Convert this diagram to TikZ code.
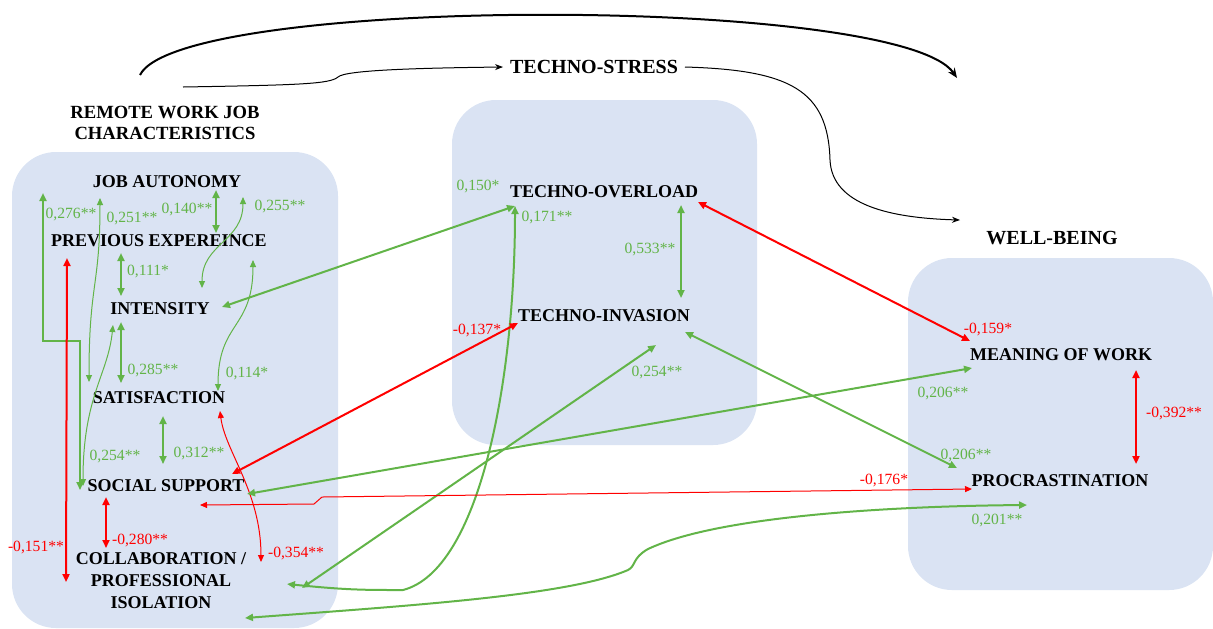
\documentclass[tikz,border=0pt]{standalone}
\usepackage{fontspec}
\setmainfont{Liberation Serif}
\usetikzlibrary{arrows.meta,calc}
\definecolor{boxblue}{RGB}{218,227,243}
\definecolor{posgreen}{RGB}{98,180,72}
\definecolor{negred}{RGB}{255,0,0}
\begin{document}
\begin{tikzpicture}[x=0.5pt,y=-0.5pt,
    group/.style={fill=boxblue,rounded corners=22pt},
    var/.style={font=\bfseries\fontsize{9}{11}\selectfont,inner sep=1pt,align=center},
    head/.style={font=\bfseries\fontsize{10}{10.5}\selectfont,align=center},
    coefg/.style={text=posgreen,font=\fontsize{7.8}{8}\selectfont,inner sep=0pt},
    coefr/.style={text=negred,font=\fontsize{7.8}{8}\selectfont,inner sep=0pt},
    ctip/.tip={Triangle[length=4pt,width=3.5pt]},
    stip/.tip={Triangle[length=3.5pt,width=3pt]},
    posline/.style={draw=posgreen,line width=1pt,ctip-ctip},
    posthin/.style={draw=posgreen,line width=0.5pt,stip-stip},
    negline/.style={draw=negred,line width=1pt,ctip-ctip},
    negthin/.style={draw=negred,line width=0.5pt,stip-stip},
  ]
  \useasboundingbox (0,0) rectangle (1213,628);

  % groups
  \fill[group] (12,152) rectangle (338,628);
  \fill[group] (452,100) rectangle (757,445);
  \fill[group] (908,258) rectangle (1213,590);

  % headings
  \node[head,font=\bfseries\fontsize{9.3}{10.5}\selectfont] (rwjc) at (165,123) {REMOTE WORK JOB\\CHARACTERISTICS};
  \node[head] (tstress) at (594,67) {TECHNO-STRESS};
  \node[head] (wellb) at (1052,238) {WELL-BEING};

  % variables
  \node[var] (jobaut) at (167,182) {JOB AUTONOMY};
  \node[var] (prevexp) at (159,241) {PREVIOUS EXPEREINCE};
  \node[var] (intens) at (160,309) {INTENSITY};
  \node[var] (satisf) at (159,398) {SATISFACTION};
  \node[var] (socsup) at (166,486) {SOCIAL SUPPORT};
  \node[var] (collab) at (161,581) {COLLABORATION /\\PROFESSIONAL\\ISOLATION};
  \node[var] (tover) at (604,192) {TECHNO-OVERLOAD};
  \node[var] (tinv) at (604,316) {TECHNO-INVASION};
  \node[var] (meaning) at (1061,355) {MEANING OF WORK};
  \node[var] (procr) at (1060,481) {PROCRASTINATION};

  % top arrows
  \draw[line width=1pt,-{Stealth[length=5pt,width=4pt]}] ($(rwjc)+(-25,-48)$)
    .. controls (180,-5) and (900,-5) .. ($(wellb)+(-95,-160)$);
  \draw[line width=0.5pt,-{Stealth[length=4pt,width=3pt]}] ($(rwjc)+(18,-36)$)
    .. controls (300,85) and (330,84) .. (338,77)
    .. controls (345,70) and (420,68) .. (tstress.west);
  \draw[line width=0.5pt,-{Stealth[length=4pt,width=3pt]}] (tstress.east)
    .. controls (790,70) and (828,90) .. (830,160)
    .. controls (832,205) and (890,218) .. ($(wellb)+(-92,-18)$);

  % remote work job characteristics
  \draw[posline] ($(jobaut)+(-124,11)$) -- ++(0,148) -- ++(37,0) -- ($(socsup)+(-86,4)$);
  \draw[posthin] ($(jobaut)+(-67,16)$) .. controls +(0,90) and +(0,-100) .. ($(satisf)+(-70,-16)$);
  \draw[posline] ($(jobaut)+(49,8)$) -- ($(prevexp)+(57,-8)$);
  \draw[posthin] ($(jobaut)+(76,15)$) .. controls +(0,45) and +(0,-45) .. ($(intens)+(42,-21)$);
  \draw[posline] ($(prevexp)+(-38,12)$) -- ($(intens)+(-39,-13)$);
  \draw[posthin] ($(prevexp)+(94,19)$) .. controls +(0,70) and +(0,-70) .. ($(satisf)+(59,-7)$);
  \draw[posline] ($(intens)+(-39,13)$) -- ($(satisf)+(-38,-15)$);
  \draw[posthin] ($(intens)+(-47,16)$) .. controls +(-5,50) and +(0,-90) .. ($(socsup)+(-83,0)$);
  \draw[posline] ($(satisf)+(4,18)$) -- ($(socsup)+(-3,-22)$);
  \draw[negline] ($(socsup)+(-60,11)$) -- ($(collab)+(-55,-33)$);
  \draw[negline] ($(prevexp)+(-92,17)$) -- ($(collab)+(-95,1)$);
  \draw[negthin] ($(satisf)+(61,13)$) .. controls +(5,40) and +(0,-70) .. ($(collab)+(100,-19)$);

  % across groups
  \draw[posline] ($(intens)+(62,-2)$) -- ($(tover)+(-89,14)$);
  \draw[posline] ($(collab)+(126,3)$) .. controls +(60,6) and +(-40,0) .. (403,590)
    .. controls (480,570) and (515,380) .. ($(tover)+(-89,14)$);
  \draw[posline] ($(collab)+(141,7)$) -- ($(tinv)+(52,29)$);
  \draw[negline] ($(socsup)+(66,-12)$) -- ($(tinv)+(-86,7)$);
  \draw[posline] ($(tover)+(77,13)$) -- ($(tinv)+(77,-18)$);
  \draw[posline] ($(tinv)+(81,16)$) -- ($(procr)+(-103,-13)$);
  \draw[negline] ($(tover)+(94,10)$) -- ($(meaning)+(-91,-14)$);
  \draw[posline] ($(socsup)+(81,8)$) -- ($(meaning)+(-89,13)$);
  \draw[negthin] ($(socsup)+(34,19)$) -- (314,504) -- (322,497) -- ($(procr)+(-88,8)$);
  \draw[posline] ($(collab)+(84,37)$) .. controls (420,605) and (570,595) .. (628,570)
    .. controls (636,566) and (632,558) .. (648,549)
    .. controls (720,515) and (900,506) .. ($(procr)+(-33,24)$);
  \draw[negline] ($(meaning)+(75,15)$) -- ($(procr)+(76,-17)$);

  % coefficients
  \node[coefg] (c276) at (71,215) {0,276**};
  \node[coefg] (c251) at (132,219) {0,251**};
  \node[coefg] (c140) at (187,210) {0,140**};
  \node[coefg] (c255) at (280,207) {0,255**};
  \node[coefg] (c111) at (148,272) {0,111*};
  \node[coefg] (c114) at (247,373) {0,114*};
  \node[coefg] (c285) at (153,370) {0,285**};
  \node[coefg] (c254a) at (115,456) {0,254**};
  \node[coefg] (c312) at (199,453) {0,312**};
  \node[coefr] (c280) at (140,540) {-0,280**};
  \node[coefr] (c151) at (36,547) {-0,151**};
  \node[coefr] (c354) at (296,553) {-0,354**};
  \node[coefg] (c150) at (478,187) {0,150*};
  \node[coefg] (c171) at (547,218) {0,171**};
  \node[coefg] (c254b) at (657,372) {0,254**};
  \node[coefr] (c137) at (477,330) {-0,137*};
  \node[coefg] (c533) at (650,250) {0,533**};
  \node[coefg] (c206a) at (966,455) {0,206**};
  \node[coefr] (c159) at (988,329) {-0,159*};
  \node[coefg] (c206b) at (943,393) {0,206**};
  \node[coefr] (c176) at (884,480) {-0,176*};
  \node[coefg] (c201) at (997,520) {0,201**};
  \node[coefr] (c392) at (1174,413) {-0,392**};
\end{tikzpicture}
\end{document}
